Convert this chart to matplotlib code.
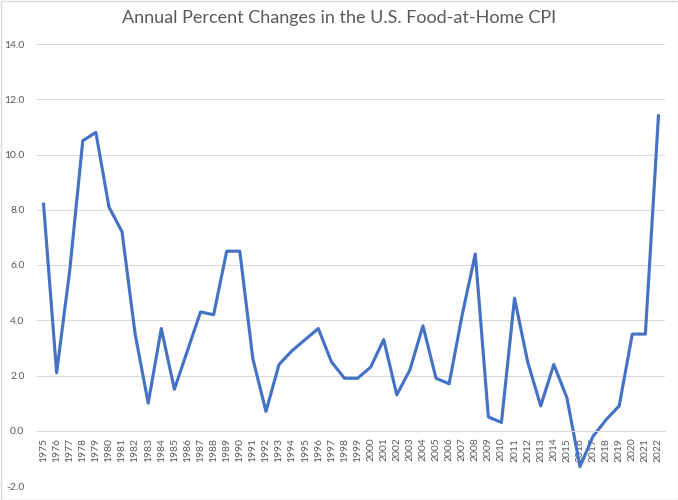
import matplotlib
matplotlib.use("Agg")
import matplotlib.pyplot as plt
from matplotlib.patches import Rectangle

years = list(range(1975, 2023))
pct_change = [8.2, 2.1, 5.8, 10.5, 10.8, 8.1, 7.2, 3.5, 1.0, 3.7,
              1.5, 2.9, 4.3, 4.2, 6.5, 6.5, 2.6, 0.7, 2.4, 2.9,
              3.3, 3.7, 2.5, 1.9, 1.9, 2.3, 3.3, 1.3, 2.2, 3.8,
              1.9, 1.7, 4.2, 6.4, 0.5, 0.3, 4.8, 2.5, 0.9, 2.4,
              1.2, -1.3, -0.2, 0.4, 0.9, 3.5, 3.5, 11.4]
y_ticks = [-2, 0, 2, 4, 6, 8, 10, 12, 14]

plt.rcParams['font.family'] = ['Lato', 'DejaVu Sans']
text_color = "#595959"
grid_color = "#D9D9D9"

fig = plt.figure(figsize=(6.78, 5.0), dpi=100)
ax = fig.add_axes([37/678, 14/500, 628/678, 442/500])

# put the category axis at y = 0 first (this resets the ticks)
for side in ["top", "right", "left"]:
    ax.spines[side].set_visible(False)
ax.spines["bottom"].set_position(("data", 0))
ax.spines["bottom"].set_color(grid_color)
ax.spines["bottom"].set_linewidth(0.75)

x = list(range(len(years)))
ax.plot(x, pct_change, color="#4472C4", linewidth=2.25, solid_joinstyle="round")

ax.set_xlim(-0.5, len(years) - 0.5)
ax.set_ylim(-2, 14)
ax.set_yticks(y_ticks)
ax.set_yticklabels([f"{v:.1f}" for v in y_ticks], fontsize=7.5, color=text_color)
ax.set_xticks(x)
ax.set_xticklabels([str(y) for y in years], rotation=90, fontsize=7.5, color=text_color)

ax.yaxis.grid(True, color=grid_color, linewidth=0.75)
ax.set_axisbelow(True)
ax.tick_params(axis="both", length=0)
ax.tick_params(axis="y", pad=9)
ax.tick_params(axis="x", pad=5)

fig.text(0.5, 1 - 18/500, "Annual Percent Changes in the U.S. Food-at-Home CPI",
         ha="center", va="center", fontsize=13, color=text_color)

fig.patches.append(Rectangle((0.5/678, 0.5/500), 1 - 1/678, 1 - 1/500, transform=fig.transFigure,
                             fill=False, edgecolor=grid_color, linewidth=1))

fig.savefig("out.png", dpi=100)
